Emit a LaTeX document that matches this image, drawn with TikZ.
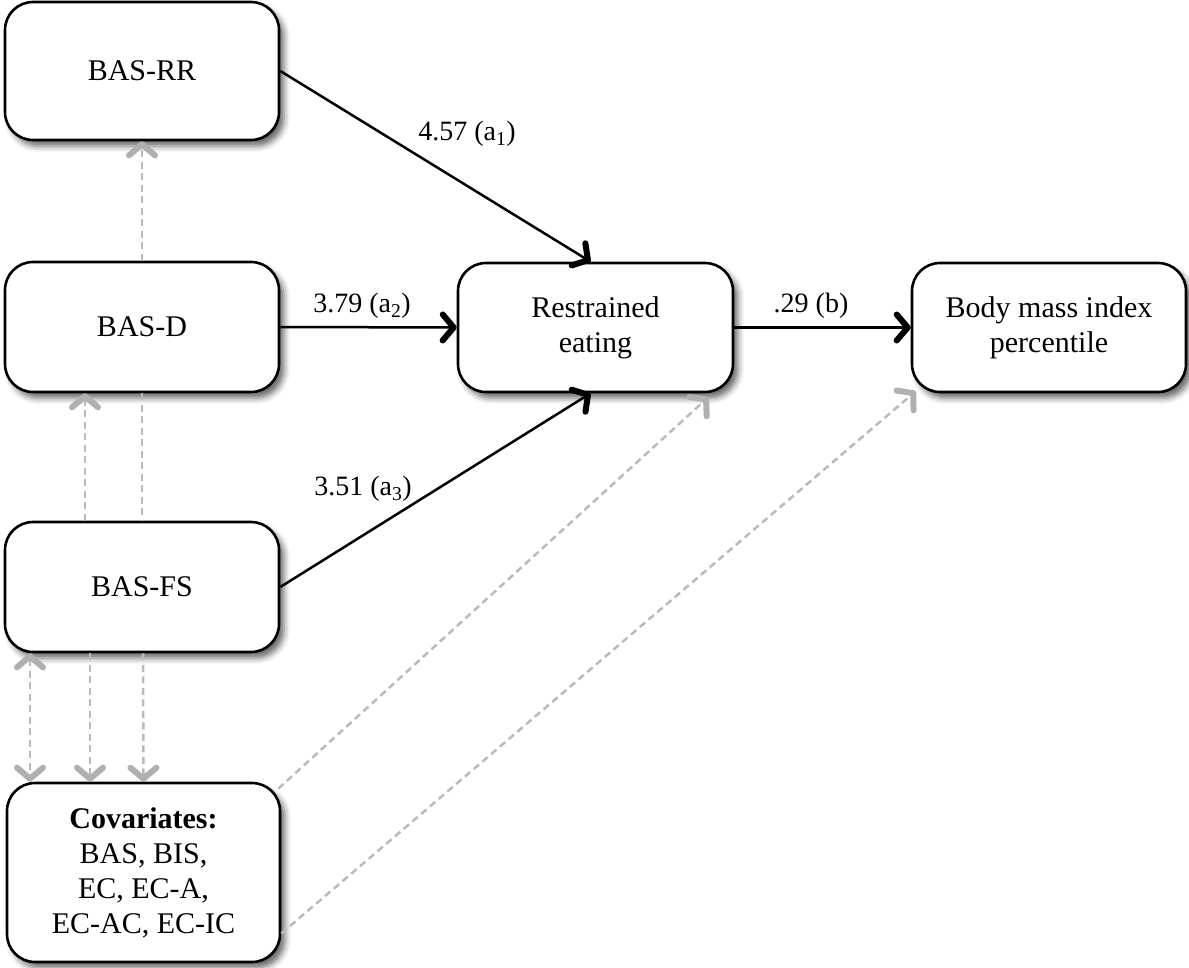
\documentclass[tikz,border=0pt]{standalone}
\usepackage{fontspec}
\setmainfont{Liberation Serif}
\usetikzlibrary{arrows.meta,shadows,shadows.blur}
\definecolor{lg}{RGB}{186,186,186}
\definecolor{lgt}{RGB}{176,176,176}
\begin{document}
\begin{tikzpicture}[x=1pt,y=-1pt,
  box/.style={draw=black, line width=2.6pt, rounded corners=28pt, fill=white,
    inner sep=0pt, minimum width=274pt, align=center,
    font=\fontsize{30}{35}\selectfont,
    blur shadow={shadow xshift=5pt, shadow yshift=-6pt, shadow blur radius=6pt, shadow opacity=60}},
  lbl/.style={font=\fontsize{28}{32}\selectfont, inner sep=0pt},
  tip/.style={-{Straight Barb[length=11pt,width=26pt,line width=6pt 0 0,round]}},
  gtip/.style={-{Straight Barb[length=11pt,width=26pt,line width=6pt 0 0,round,color=lgt]}},
  gtips/.style={{Straight Barb[length=11pt,width=26pt,line width=6pt 0 0,round,color=lgt]}-{Straight Barb[length=11pt,width=26pt,line width=6pt 0 0,round,color=lgt]}},
  blk/.style={draw=black, line width=2.5pt, tip},
  gry/.style={draw=lg, line width=2.5pt, dash pattern=on 7pt off 4.5pt}
]
\useasboundingbox (0,0) rectangle (1189,968);

\node[box, minimum height=138pt] (rr) at (142,71) {BAS-RR};
\node[box, minimum height=130pt] (d) at (142,327) {BAS-D};
\node[box, minimum height=130pt] (fs) at (142,587) {BAS-FS};
\node[box, minimum height=179pt, minimum width=273pt] (cov) at (143.5,872.5)
  {\textbf{Covariates:}\\BAS, BIS,\\EC, EC-A,\\EC-AC, EC-IC};
\node[box, minimum height=129pt, minimum width=275pt] (re) at (595.5,327.5) {Restrained\\eating};
\node[box, minimum height=129pt] (bmi) at (1049,327.5) {Body mass index\\percentile};

% grey dashed connectors
\draw[gry, gtip] (d.north) -- (rr.south);
\draw[gry, gtip] ([xshift=-57pt]fs.north) -- ([xshift=-57pt]d.south);
\draw[gry] (d.south) -- (fs.north);
\draw[gry, gtips] ([xshift=-112pt]fs.south) -- ([xshift=-113.5pt]cov.north);
\draw[gry, gtip] ([xshift=-52pt]fs.south) -- ([xshift=-53.5pt]cov.north);
\draw[gry, gtip] ([xshift=1pt]fs.south) -- (cov.north);
\draw[gry, gtip] ([xshift=-3pt,yshift=-7pt]cov.north east) -- ([xshift=-26pt,yshift=-4pt]re.south east);
\draw[gry, gtip] ([yshift=-61pt]cov.east) -- ([xshift=5pt,yshift=2pt]bmi.south west);

% black paths
\draw[blk] (rr.east) -- ([xshift=-5pt]re.north);
\draw[blk] (d.east) -- (re.west);
\draw[blk] (fs.east) -- ([xshift=-5pt]re.south);
\draw[blk] (re.east) -- (bmi.west);

% labels
\node[lbl] (la1) at (467,134) {4.57 (a\textsubscript{1})};
\node[lbl] (la2) at (362,306) {3.79 (a\textsubscript{2})};
\node[lbl] (la3) at (363,489) {3.51 (a\textsubscript{3})};
\node[lbl] (lb) at (811,306) {.29 (b)};
\end{tikzpicture}
\end{document}
